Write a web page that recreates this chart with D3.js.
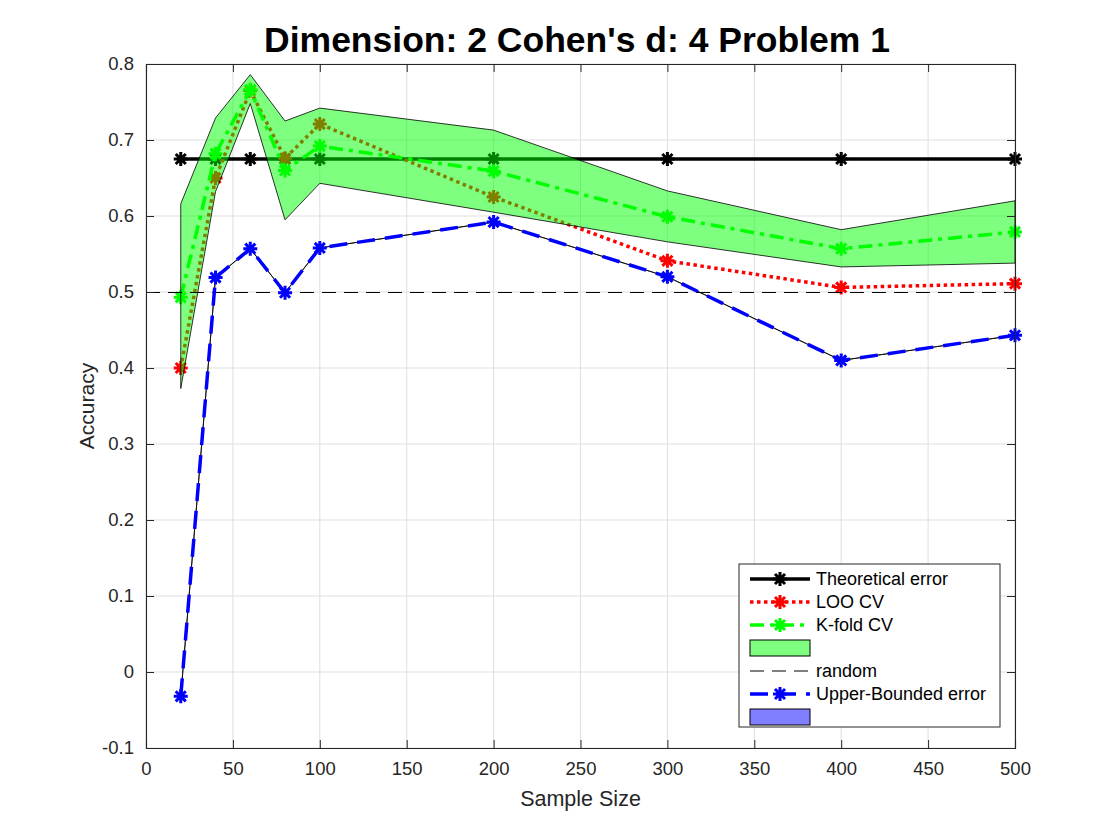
<!DOCTYPE html>
<html>
<head>
<meta charset="utf-8">
<script src="https://cdn.jsdelivr.net/npm/d3@7"></script>
<style>
  body { margin: 0; background: #fff; }
  text { font-family: "Liberation Sans", Arial, Helvetica, sans-serif; fill: #262626; }
</style>
</head>
<body>
<div id="chart"></div>
<script>
const width = 1120,
  height = 840,
  margin = { top: 64, bottom: 92, left: 146, right: 105 };

// data
const sampleSizes = [20, 40, 60, 80, 100, 200, 300, 400, 500];
const theoretical = [0.675, 0.675, 0.675, 0.675, 0.675, 0.675, 0.675, 0.675, 0.675];
const looCV = [0.40, 0.65, 0.765, 0.676, 0.721, 0.625, 0.541, 0.506, 0.511];
const kfoldCV = [0.493, 0.682, 0.766, 0.66, 0.692, 0.659, 0.599, 0.557, 0.579];
const kfoldUpper = [0.616, 0.729, 0.786, 0.725, 0.742, 0.713, 0.633, 0.582, 0.62];
const kfoldLower = [0.373, 0.632, 0.748, 0.595, 0.643, 0.605, 0.566, 0.533, 0.538];
const randomLevel = [0.5, 0.5];
const randomX = [0, 500];
const upperBounded = [-0.032, 0.519, 0.557, 0.499, 0.558, 0.592, 0.52, 0.41, 0.443];
const ubUpper = upperBounded;
const ubLower = upperBounded;

const xTicks = [0, 50, 100, 150, 200, 250, 300, 350, 400, 450, 500];
const yTicks = [-0.1, 0, 0.1, 0.2, 0.3, 0.4, 0.5, 0.6, 0.7, 0.8];
const yTickLabels = ["-0.1", "0", "0.1", "0.2", "0.3", "0.4", "0.5", "0.6", "0.7", "0.8"];
const legendLabels = ["Theoretical error", "LOO CV", "K-fold CV", "", "random", "Upper-Bounded error", ""];

const svg = d3.select("#chart").append("svg")
  .attr("width", width)
  .attr("height", height);

const xScale = d3.scaleLinear().domain([0, 500]).range([margin.left, width - margin.right]);
const yScale = d3.scaleLinear().domain([-0.1, 0.8]).range([height - margin.bottom, margin.top]);

// grid
svg.append("g")
  .selectAll("line")
  .data(xTicks)
  .join("line")
  .attr("x1", d => xScale(d)).attr("x2", d => xScale(d))
  .attr("y1", yScale(-0.1)).attr("y2", yScale(0.8))
  .attr("stroke", "#dfdfdf").attr("stroke-width", 1);
svg.append("g")
  .selectAll("line")
  .data(yTicks)
  .join("line")
  .attr("y1", d => yScale(d)).attr("y2", d => yScale(d))
  .attr("x1", xScale(0)).attr("x2", xScale(500))
  .attr("stroke", "#dfdfdf").attr("stroke-width", 1);

const line = d3.line().x((d, i) => xScale(sampleSizes[i])).y(d => yScale(d));
const area = (up, lo) => d3.area()
  .x((d, i) => xScale(sampleSizes[i]))
  .y0((d, i) => yScale(lo[i]))
  .y1((d, i) => yScale(up[i]));

const r = 7, a = r * 0.72;
const star = `M${-r},0L${r},0M0,${-r}L0,${r}M${-a},${-a}L${a},${a}M${-a},${a}L${a},${-a}`;

function drawSeries(values, color, width, dash) {
  svg.append("path")
    .datum(values)
    .attr("d", line)
    .attr("fill", "none")
    .attr("stroke", color)
    .attr("stroke-width", width)
    .attr("stroke-dasharray", dash);
  svg.append("g")
    .selectAll("path")
    .data(values)
    .join("path")
    .attr("transform", (d, i) => `translate(${xScale(sampleSizes[i])},${yScale(d)})`)
    .attr("d", star)
    .attr("fill", "none")
    .attr("stroke", color)
    .attr("stroke-width", 3);
}

drawSeries(theoretical, "#000000", 3.5, null);
drawSeries(looCV, "#ff0000", 3.5, "3.5,3.5");
drawSeries(kfoldCV, "#00ff00", 3.5, "14,6,4,6");

// k-fold band
svg.append("path")
  .datum(sampleSizes)
  .attr("d", area(kfoldUpper, kfoldLower))
  .attr("fill", "#00ff00")
  .attr("fill-opacity", 0.5)
  .attr("stroke", "#000")
  .attr("stroke-width", 0.8);

// random level
svg.append("path")
  .datum(randomLevel)
  .attr("d", d3.line().x((d, i) => xScale(randomX[i])).y(d => yScale(d)))
  .attr("fill", "none")
  .attr("stroke", "#000")
  .attr("stroke-width", 1)
  .attr("shape-rendering", "crispEdges")
  .attr("stroke-dasharray", "14,8");

// upper-bounded band (collapsed) and line
svg.append("path")
  .datum(sampleSizes)
  .attr("d", area(ubUpper, ubLower))
  .attr("fill", "#0000ff")
  .attr("fill-opacity", 0.5)
  .attr("stroke", "#000")
  .attr("stroke-width", 0.8);
drawSeries(upperBounded, "#0000ff", 3.5, "18,10");

// axes box
const axisColor = "#262626";
const xAxis = d3.axisBottom(xScale).tickValues(xTicks).tickSize(-8).tickPadding(14).tickFormat(d3.format("d"));
const xAxisTop = d3.axisTop(xScale).tickValues(xTicks).tickSize(-8).tickFormat("");
const yAxis = d3.axisLeft(yScale).tickValues(yTicks).tickSize(-8).tickPadding(12).tickFormat((d, i) => yTickLabels[i]);
const yAxisRight = d3.axisRight(yScale).tickValues(yTicks).tickSize(-8).tickFormat("");

function styleAxis(g) {
  g.select(".domain").attr("stroke", axisColor).attr("stroke-width", 1.1);
  g.selectAll(".tick line").attr("stroke", axisColor).attr("stroke-width", 1);
  g.selectAll(".tick text").attr("fill", axisColor).style("font-size", "18.5px")
    .style("font-family", "'Liberation Sans', Arial, sans-serif");
}

svg.append("g").attr("transform", `translate(0,${height - margin.bottom})`).call(xAxis).call(styleAxis);
svg.append("g").attr("transform", `translate(0,${margin.top})`).call(xAxisTop).call(styleAxis);
svg.append("g").attr("transform", `translate(${margin.left},0)`).call(yAxis).call(styleAxis);
svg.append("g").attr("transform", `translate(${width - margin.right},0)`).call(yAxisRight).call(styleAxis);

// labels
svg.append("text")
  .attr("x", (margin.left + width - margin.right) / 2)
  .attr("y", 806)
  .attr("text-anchor", "middle")
  .style("font-size", "21.5px")
  .text("Sample Size");
svg.append("text")
  .attr("transform", `translate(94,${(margin.top + height - margin.bottom) / 2}) rotate(-90)`)
  .attr("text-anchor", "middle")
  .style("font-size", "21px")
  .text("Accuracy");
svg.append("text")
  .attr("x", 577)
  .attr("y", 52)
  .attr("text-anchor", "middle")
  .style("font-size", "35.5px")
  .style("font-weight", "bold")
  .style("fill", "#000")
  .text("Dimension: 2 Cohen's d: 4 Problem 1");

// legend
const lg = svg.append("g").attr("transform", "translate(739,564)");
lg.append("rect")
  .attr("width", 261).attr("height", 163)
  .attr("fill", "#fff").attr("stroke", axisColor).attr("stroke-width", 1);

const rowY = i => 15 + i * 23;
const legendStyles = [
  { type: "line", color: "#000", w: 3.5, dash: null, marker: true },
  { type: "line", color: "#ff0000", w: 3.5, dash: "3.5,3.5", marker: true },
  { type: "line", color: "#00ff00", w: 3.5, dash: "14,6,4,6", marker: true },
  { type: "patch", color: "#00ff00" },
  { type: "line", color: "#000", w: 1, dash: "14,8", marker: false },
  { type: "line", color: "#0000ff", w: 3.5, dash: "18,10", marker: true },
  { type: "patch", color: "#0000ff" }
];

legendLabels.forEach((label, i) => {
  const s = legendStyles[i];
  const y = rowY(i);
  if (s.type === "patch") {
    lg.append("rect")
      .attr("x", 11).attr("y", y - 8).attr("width", 60).attr("height", 16)
      .attr("fill", s.color).attr("fill-opacity", 0.5)
      .attr("stroke", "#000").attr("stroke-width", 1);
  } else {
    lg.append("line")
      .attr("x1", 11).attr("x2", 71).attr("y1", y).attr("y2", y)
      .attr("stroke", s.color).attr("stroke-width", s.w)
      .attr("stroke-dasharray", s.dash);
    if (s.marker) {
      lg.append("path")
        .attr("transform", `translate(41,${y})`)
        .attr("d", star)
        .attr("fill", "none")
        .attr("stroke", s.color)
        .attr("stroke-width", 3);
    }
  }
  lg.append("text")
    .attr("x", 77).attr("y", y + 6)
    .style("font-size", "18px")
    .style("fill", "#000")
    .text(label);
});
</script>
</body>
</html>
